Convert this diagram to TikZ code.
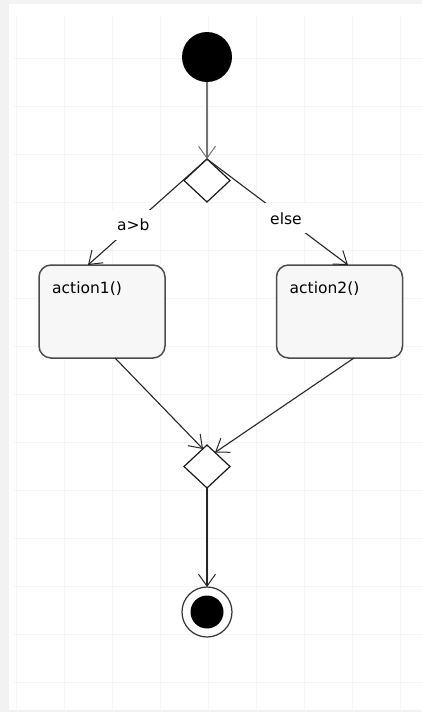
\documentclass[tikz,border=0pt]{standalone}
\usepackage{fontspec}
\setmainfont{DejaVu Sans}
\usetikzlibrary{arrows.meta,shapes.geometric,calc}

\begin{document}
\begin{tikzpicture}[x=1pt,y=-1pt,
  every node/.style={font=\fontsize{15.5}{18}\selectfont},
  initialnode/.style={circle, fill=black, minimum size=50pt, inner sep=0pt, outer sep=0pt},
  finalnode/.style={circle, draw=black!80, line width=1.2pt, minimum size=50pt, inner sep=0pt, outer sep=0pt,
    path picture={\fill[black] (path picture bounding box.center) circle (16.5pt);}},
  decision/.style={diamond, draw=black!90, fill=white, line width=1.2pt, minimum width=46pt, minimum height=43pt, inner sep=0pt, outer sep=0pt},
  action/.style={rectangle, rounded corners=12pt, draw=black!70, fill=black!3, line width=1.5pt, minimum width=126pt, minimum height=93pt, inner sep=0pt, outer sep=0pt},
  actiontext/.style={anchor=base west, xshift=13pt, yshift=-28pt, inner sep=0pt},
  guard/.style={fill=white, inner xsep=5pt, inner ysep=9pt},
  flow/.style={draw=black!85, line width=1.1pt, -{Straight Barb[length=12pt,width=17pt,line width=1pt]}}
]
% canvas and faint grid
\fill[black!5] (0,0) rectangle (422,712);
\fill[white] (9,4) rectangle (422,710);
\useasboundingbox (0,0) rectangle (422,712);
\draw[black!4, line width=1pt] foreach \x in {16,64,...,400} {(\x,15) -- (\x,710)};
\draw[black!4, line width=1pt] foreach \y in {58,106,...,682} {(13,\y) -- (422,\y)};

% nodes
\node[initialnode] (start) at (207,57) {};
\node[decision] (split) at (207,180.5) {};
\node[action, label={[actiontext, name=act1text]north west:action1()}] (act1) at (102,311.5) {};
\node[action, label={[actiontext, name=act2text]north west:action2()}] (act2) at (339.5,311.5) {};
\node[decision] (merge) at (207,466.5) {};
\node[finalnode] (end) at (207,612) {};

% control flows
\draw[flow, draw=black!55, line width=1.6pt] (start) -- (split.north);
\draw[flow] (split.north) -- node[guard, pos=0.62] (g1) {a>b} ($(act1.north)+(-14,0)$);
\draw[flow] (split.north) -- node[guard, pos=0.56] (g2) {else} ($(act2.north)+(8.5,0)$);
\draw[flow] ($(act1.south)+(13,0)$) -- ($(merge.north)+(-4,4)$);
\draw[flow] ($(act2.south)+(14.5,0)$) -- ($(merge.north)+(8,7.5)$);
\draw[flow] (merge.south) -- (end.north);
\end{tikzpicture}
\end{document}
